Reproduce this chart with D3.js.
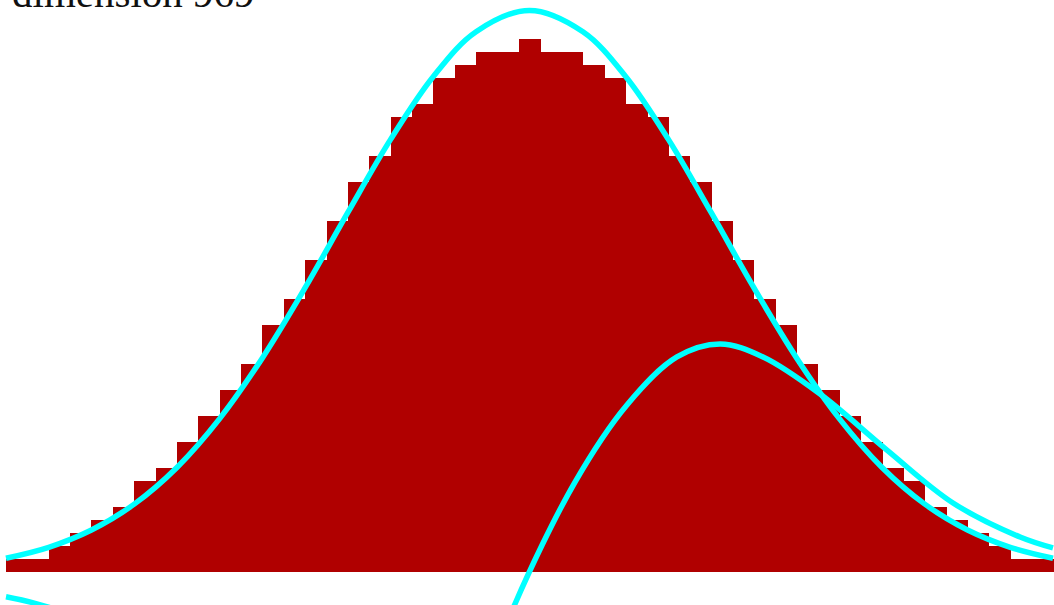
<!DOCTYPE html>
<html>
<head>
<meta charset="utf-8">
<script src="https://cdn.jsdelivr.net/npm/d3@7"></script>
<style>
  html, body { margin: 0; padding: 0; background: #fff; overflow: hidden; }
  svg { display: block; }
</style>
</head>
<body>
<div id="chart"></div>
<script>
var width = 1054;
var height = 605;
var margin = {"top": 0, "right": 1, "bottom": 33, "left": 6};

var title = "dimension 969";

// histogram counts, one per bin
var counts = [1, 1, 2, 3, 4, 5, 7, 8, 10, 12, 14, 16, 19, 21, 24, 27, 30, 32, 35, 36,
              38, 39, 40, 40, 41, 40, 40, 39, 38, 36, 35, 32, 30, 27, 24, 21, 19, 16, 14, 12,
              10, 8, 7, 5, 4, 3, 2, 1, 1];

// fitted curve (bin units, count units)
var fitX = [0, 2, 4, 6, 8, 10, 12, 14, 16, 18, 20, 22, 24.5, 27, 29, 31, 33, 35, 37, 39, 41, 43, 45, 47, 49];
var fitY = [1.06, 1.90, 3.23, 5.22, 8.04, 11.8, 16.47, 21.87, 27.66, 33.28, 38.12, 41.56, 43.2,
            41.56, 38.12, 33.28, 27.66, 21.87, 16.47, 11.8, 8.04, 5.22, 3.23, 1.90, 1.06];

// second curve (part of it runs below the frame)
var skewX = [0, 1.36, 5.3, 11.4, 17.5, 21.25, 22.89, 23.82, 26.63, 29.06, 31.4, 33.42,
             35.43, 38.1, 41.23, 44.32, 47.46, 49];
var skewY = [-1.9, -2.41, -4.6, -10, -17, -13.6, -6.54, -2.46, 6.92, 12.85, 16.54, 17.54,
             16.54, 13.69, 9.38, 5.31, 2.69, 1.85];

var xScale = d3.scaleLinear()
    .domain([0, counts.length])
    .range([margin.left, width - margin.right]);
var yScale = d3.scaleLinear()
    .domain([0, 44])
    .range([height - margin.bottom, margin.top]);

var svg = d3.select("#chart").append("svg")
    .attr("width", width)
    .attr("height", height);

// bars
svg.append("g")
    .selectAll("rect")
    .data(counts)
    .enter().append("rect")
    .attr("x", function(d, i) { return xScale(i); })
    .attr("y", function(d) { return yScale(d); })
    .attr("width", function(d, i) { return xScale(i + 1) - xScale(i) + 0.5; })
    .attr("height", function(d) { return yScale(0) - yScale(d); })
    .attr("fill", "#b00000")
    .attr("shape-rendering", "crispEdges");

// curves
var line = d3.line()
    .x(function(d) { return xScale(d[0]); })
    .y(function(d) { return yScale(d[1]); })
    .curve(d3.curveCatmullRom);

var fit = fitX.map(function(x, i) { return [x, fitY[i]]; });
var skew = skewX.map(function(x, i) { return [x, skewY[i]]; });

svg.append("path")
    .datum(fit)
    .attr("d", line)
    .attr("fill", "none")
    .attr("stroke", "#00ffff")
    .attr("stroke-width", 5.5);

svg.append("path")
    .datum(skew)
    .attr("d", line)
    .attr("fill", "none")
    .attr("stroke", "#00ffff")
    .attr("stroke-width", 5.5);

// title, partly cut off at the top
svg.append("text")
    .attr("x", 12)
    .attr("y", 7)
    .attr("font-family", "'Liberation Serif', 'Times New Roman', serif")
    .attr("font-size", 41)
    .attr("fill", "#111")
    .text(title);
</script>
</body>
</html>
